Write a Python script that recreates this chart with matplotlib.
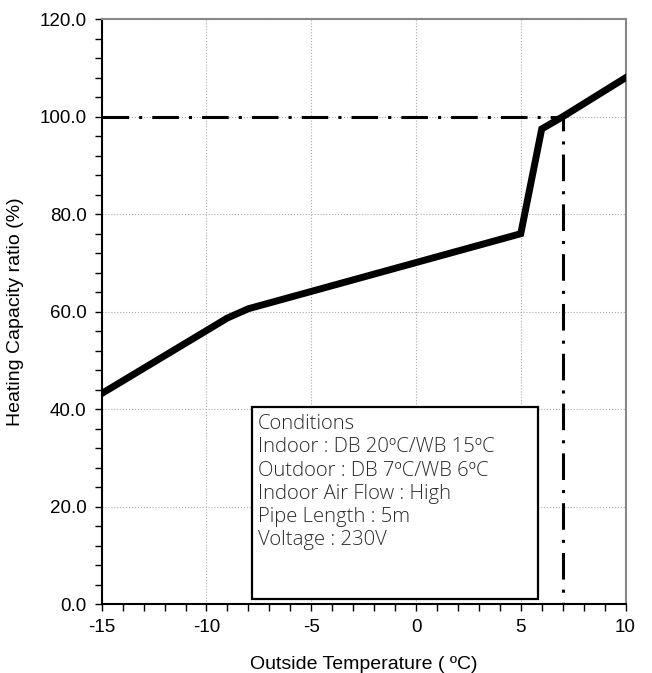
import matplotlib
matplotlib.use("Agg")
import matplotlib.pyplot as plt
from matplotlib.patches import Rectangle
from matplotlib.ticker import MultipleLocator, FormatStrFormatter

# outdoor temperature vs heating capacity ratio
temps = [-15, -9, -8, 5, 6, 7, 10]
capacity = [43.2, 58.7, 60.6, 76.0, 97.5, 100.0, 108.0]

# rated point guide line (dash-dot)
guide_x = [-15, 7, 7]
guide_y = [100, 100, 0]

conditions = [
    "Conditions",
    "Indoor : DB 20ºC/WB 15ºC",
    "Outdoor : DB 7ºC/WB 6ºC",
    "Indoor Air Flow : High",
    "Pipe Length : 5m",
    "Voltage : 230V",
]

plt.rcParams['font.family'] = ['Liberation Sans', 'DejaVu Sans']
plt.rcParams['axes.unicode_minus'] = False

fig = plt.figure(figsize=(6.52, 6.73), dpi=100)
ax = fig.add_axes([0.156, 0.1025, 0.8034, 0.8688])

ax.plot(temps, capacity, color='black', lw=5, solid_joinstyle='miter', zorder=5)
ax.plot(guide_x, guide_y, color='black', lw=2.2,
        linestyle=(0, (8.7, 3.3, 1, 3.3)), dash_capstyle='butt', zorder=4)

ax.set_xlim(-15, 10)
ax.set_ylim(0, 120)
ax.xaxis.set_major_locator(MultipleLocator(5))
ax.xaxis.set_minor_locator(MultipleLocator(1))
ax.yaxis.set_major_locator(MultipleLocator(20))
ax.yaxis.set_minor_locator(MultipleLocator(4))
ax.yaxis.set_major_formatter(FormatStrFormatter('%.1f'))
ax.tick_params(which='both', direction='out', length=5, width=1, labelsize=13.5, pad=6)
ax.grid(True, which='major', color='#aaaaaa', linestyle=':', linewidth=0.8)

for side in ['top', 'right']:
    ax.spines[side].set_color('#888888')
    ax.spines[side].set_linewidth(1.5)
for side in ['left', 'bottom']:
    ax.spines[side].set_color('black')
    ax.spines[side].set_linewidth(1.5)

ax.set_xlabel("Outside Temperature ( ºC)", fontsize=14, labelpad=14)
ax.set_ylabel("Heating Capacity ratio (%)", fontsize=14, labelpad=11)

# conditions box
box = Rectangle((-7.81, 1.0), 13.62, 39.5, facecolor='white', edgecolor='black',
                lw=1.6, zorder=6)
ax.add_patch(box)
ax.text(-7.55, 39.0, "\n".join(conditions), fontsize=14.6, color='#2a2a2a',
        family=['Open Sans', 'DejaVu Sans'], fontweight='light',
        va='top', ha='left', linespacing=1.22, zorder=7)

fig.savefig("out.png", dpi=100)
